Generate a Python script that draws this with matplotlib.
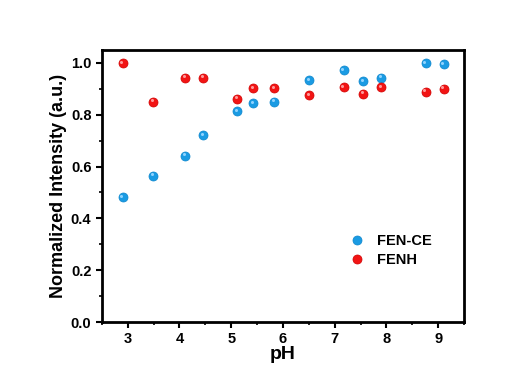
import matplotlib
matplotlib.use("Agg")
import matplotlib.pyplot as plt
from matplotlib.ticker import MultipleLocator
from matplotlib.transforms import ScaledTranslation

ph = [2.9, 3.49, 4.11, 4.46, 5.12, 5.43, 5.83, 6.51, 7.17, 7.55, 7.90, 8.76, 9.11]
fen_ce = [0.482, 0.565, 0.642, 0.720, 0.813, 0.844, 0.849, 0.933, 0.972, 0.930, 0.943, 0.999, 0.995]
fenh = [0.999, 0.849, 0.943, 0.943, 0.862, 0.903, 0.903, 0.876, 0.906, 0.881, 0.906, 0.889, 0.900]

plt.rcParams["font.family"] = ["Liberation Sans", "DejaVu Sans"]
plt.rcParams["font.weight"] = "bold"

fig = plt.figure(figsize=(5.25, 3.67), dpi=100)
ax = fig.add_axes([0.194, 0.1226, 0.69, 0.7414])

ax.plot(ph, fen_ce, "o", color="#1a9be3", ms=6.5, mec="#0d86cc", mew=0.5, label="FEN-CE")
ax.plot(ph, fenh, "o", color="#f21414", ms=6.5, mec="#d00000", mew=0.5, label="FENH")

# small highlight so the dots look like little spheres
shift = ax.transData + ScaledTranslation(-1.5 / 100, 1.5 / 100, fig.dpi_scale_trans)
ax.plot(ph, fen_ce, "o", color="#8fd3ff", ms=2.2, mew=0, transform=shift)
ax.plot(ph, fenh, "o", color="#ff9a9a", ms=2.2, mew=0, transform=shift)

ax.set_xlim(2.5, 9.5)
ax.set_ylim(0, 1.05)
ax.xaxis.set_major_locator(MultipleLocator(1))
ax.xaxis.set_minor_locator(MultipleLocator(0.5))
ax.yaxis.set_major_locator(MultipleLocator(0.2))
ax.yaxis.set_minor_locator(MultipleLocator(0.1))
ax.yaxis.set_major_formatter(lambda v, p: f"{v:.1f}")

for s in ax.spines.values():
    s.set_linewidth(2)
ax.tick_params(which="major", direction="out", length=4, width=1.5, labelsize=10.5)
ax.tick_params(which="minor", direction="out", length=2.5, width=1.2)

ax.set_xlabel("pH", fontsize=14, fontweight="bold", labelpad=0)
ax.set_ylabel("Normalized Intensity (a.u.)", fontsize=13, fontweight="bold", labelpad=3)

ax.legend(loc="upper left", bbox_to_anchor=(0.647, 0.373), frameon=False,
          prop={"weight": "bold", "size": 10.5}, handlelength=1.0,
          handletextpad=0.9, labelspacing=0.35)

fig.savefig("out.png", dpi=100)
